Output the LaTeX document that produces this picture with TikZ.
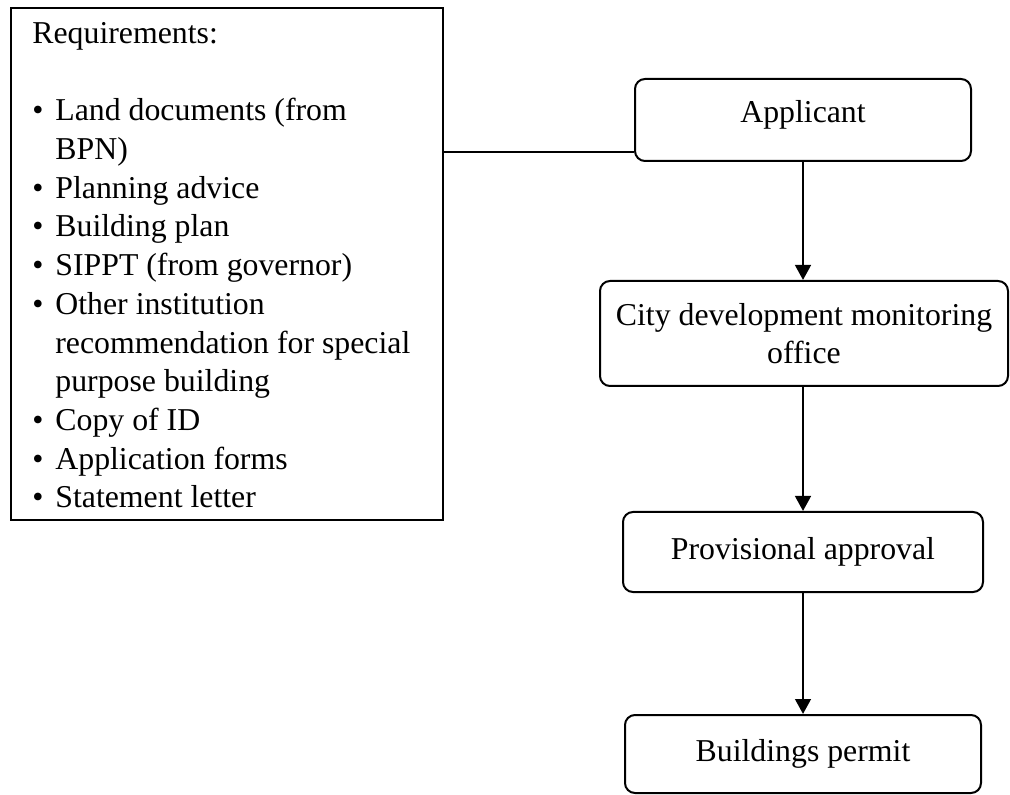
\documentclass[tikz,border=0pt]{standalone}
\usepackage{fontspec}
\setmainfont{Liberation Serif}
\usetikzlibrary{arrows.meta}

\newcommand{\itemline}[1]{\makebox[11.5pt][l]{\textbullet}#1}
\newcommand{\contline}[1]{\hspace*{11.5pt}#1}

\begin{document}
\begin{tikzpicture}[x=0.5pt, y=-0.5pt,
  every node/.style={font=\fontsize{15.9}{19.35}\selectfont},
  frame/.style={draw, line width=1pt, inner sep=0pt},
  stepbox/.style={draw, line width=1pt, rounded corners=5pt, inner sep=0pt, align=center},
  flow/.style={line width=1.3pt, -{Triangle[length=7.5pt, width=7.8pt]}},
  link/.style={line width=0.8pt}
]
\useasboundingbox (0,0) rectangle (1010,795);

% list of requirements
\node[frame, minimum width=216pt, minimum height=256pt] (reqbox) at (227,264) {};
\node[anchor=north west, inner sep=0pt, align=left] (reqtext) at (32,22) {%
  Requirements:\\[19.35pt]
  \itemline{Land documents (from}\\
  \contline{BPN)}\\
  \itemline{Planning advice}\\
  \itemline{Building plan}\\
  \itemline{SIPPT (from governor)}\\
  \itemline{Other institution}\\
  \contline{recommendation for special}\\
  \contline{purpose building}\\
  \itemline{Copy of ID}\\
  \itemline{Application forms}\\
  \itemline{Statement letter}};

% process steps
\node[stepbox, minimum width=168pt, minimum height=41pt,
      text height=10.9pt, text depth=8.4pt] (app) at (803,120) {Applicant};
\node[stepbox, minimum width=204pt, minimum height=52.5pt] (city) at (804,333.5)
  {City development monitoring\\office};
\node[stepbox, minimum width=180pt, minimum height=40pt] (prov) at (803,552) {Provisional approval};
\node[stepbox, minimum width=178pt, minimum height=39pt] (perm) at (803,754) {Buildings permit};

% connectors
\coordinate (applink) at ([yshift=5pt]app.south west);
\draw[link] (reqbox.east |- applink) -- (applink);
\draw[flow] (app.south) -- (app.south |- city.north);
\draw[flow] (app.south |- city.south) -- (prov.north);
\draw[flow] (prov.south) -- (perm.north);
\end{tikzpicture}
\end{document}
